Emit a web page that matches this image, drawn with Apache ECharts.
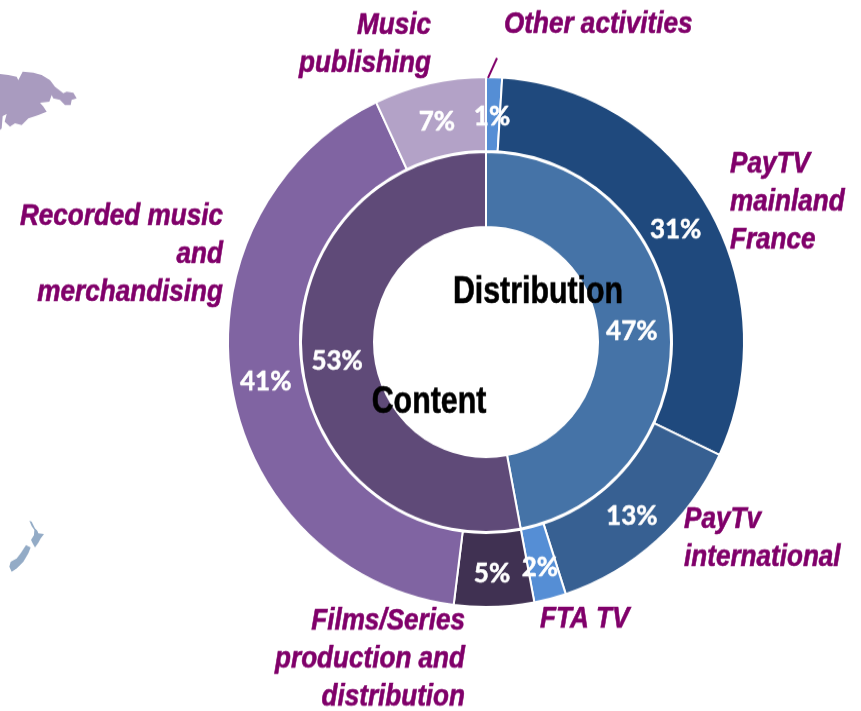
<!DOCTYPE html>
<html><head><meta charset="utf-8">
<style>html,body{margin:0;padding:0;background:#fff;overflow:hidden}
#c{width:861px;height:711px;transform-origin:0 342px;transform:scaleY(1.027)}</style>
<script src="https://cdn.jsdelivr.net/npm/echarts@6/dist/echarts.min.js"></script>
</head><body><div id="c"></div>
<script>
const innerNames = ['Distribution','Content'];
const innerValues = [47,53];
const innerColors = ['#4573A7','#5F4A78'];
const innerNudge = [[-5,4],[2,4]];
const outerNames = ['Other activities','PayTV mainland France','PayTv international','FTA TV','Films/Series production and distribution','Recorded music and merchandising','Music publishing'];
const outerValues = [1,31,13,2,5,41,7];
const outerColors = ['#558ED5','#1F497D','#376092','#558ED5','#403152','#8064A2','#B3A2C7'];
const outerNudge = [[-1,5],[-4,5],[-3,1],[-2,2],[-1,1],[2,3],[0,5]];
const S = 1.027, CY = 342;
const fy = y => CY + (y - CY) / S;
const nameFont = 'italic bold 30px "Liberation Sans",sans-serif';
const centreFont = 'bold 37px "Liberation Sans",sans-serif';
const nameLabels = [
  {t:'Music\npublishing', x:431, y:44, a:'right'},
  {t:'Other activities', x:504, y:24, a:'left'},
  {t:'PayTV\nmainland\nFrance', x:730, y:202, a:'left'},
  {t:'PayTv\ninternational', x:684, y:538, a:'left'},
  {t:'FTA TV', x:540, y:619, a:'left'},
  {t:'Films/Series\nproduction and\ndistribution', x:465, y:659, a:'right'},
  {t:'Recorded music\nand\nmerchandising', x:223, y:254, a:'right'}
];
const centreLabels = [{t:'Distribution',x:538,y:292},{t:'Content',x:429,y:402}];
const aus = [[0,72],[25,75],[50,80],[55,90],[68,65],[100,68],[125,75],[150,90],[165,110],[190,130],[200,125],[220,128],[230,145],[215,150],[212,165],[195,165],[180,150],[160,145],[155,135],[148,155],[120,158],[130,170],[140,185],[115,195],[85,205],[65,225],[45,220],[30,230],[14,215],[20,192],[8,198],[5,235],[0,240]].map(p=>[p[0]/3,50+p[1]/3]);
const nzN = [[88,32],[95,35],[105,55],[112,62],[115,70],[132,72],[122,85],[115,98],[105,112],[98,100],[93,90],[102,75],[103,60],[95,48]].map(p=>[p[0]/3,510+p[1]/3]);
const nzS = [[78,105],[92,112],[85,130],[70,155],[50,175],[35,185],[28,170],[32,155],[50,145],[62,130]].map(p=>[p[0]/3,510+p[1]/3]);
const poly = (pts,fill) => ({type:'polygon',silent:true,z:0,shape:{points:pts.map(p=>[p[0],fy(p[1])])},style:{fill}});
const txt = (o,font,fill,lh,sx) => ({type:'text',z:10,silent:true,x:o.x,y:fy(o.y),scaleX:sx,style:{text:o.t,font,fill,stroke:fill,lineWidth:0.6,align:o.a||'center',verticalAlign:'middle',lineHeight:lh}});
const chart = echarts.init(document.getElementById('c'),null,{renderer:'canvas'});
const pctLabel = {show:true,position:'inside',formatter:'{c}%',color:'#fff',fontFamily:'Lato',fontWeight:'bold',fontSize:26,textBorderColor:'#fff',textBorderWidth:0.5};
const slices = (names,vals,cols,nudge) => names.map((n,i)=>({name:n,value:vals[i],itemStyle:{color:cols[i]},label:{offset:nudge[i]}}));
chart.setOption({
  animation:false,
  backgroundColor:'#fff',
  series:[
    {type:'pie',center:[486,CY],radius:[186,258],startAngle:90,clockwise:true,silent:true,z:2,
     label:pctLabel,labelLine:{show:false},itemStyle:{borderColor:'#fff',borderWidth:2},
     data:slices(outerNames,outerValues,outerColors,outerNudge)},
    {type:'pie',center:[486,CY],radius:[112,185],startAngle:90,clockwise:true,silent:true,z:3,
     label:pctLabel,labelLine:{show:false},itemStyle:{borderColor:'#fff',borderWidth:2},
     data:slices(innerNames,innerValues,innerColors,innerNudge)}
  ],
  graphic:[
    poly(aus,'#A99BBF'),poly(nzN,'#93ABC6'),poly(nzS,'#93ABC6'),
    {type:'line',z:10,silent:true,shape:{x1:488,y1:fy(78),x2:497,y2:fy(58)},style:{stroke:'#80006A',lineWidth:2}},
    ...nameLabels.map(o=>txt(o,nameFont,'#80006A',37,0.87)),
    ...centreLabels.map(o=>txt(o,centreFont,'#000',38,0.82))
  ]
});
</script></body></html>
